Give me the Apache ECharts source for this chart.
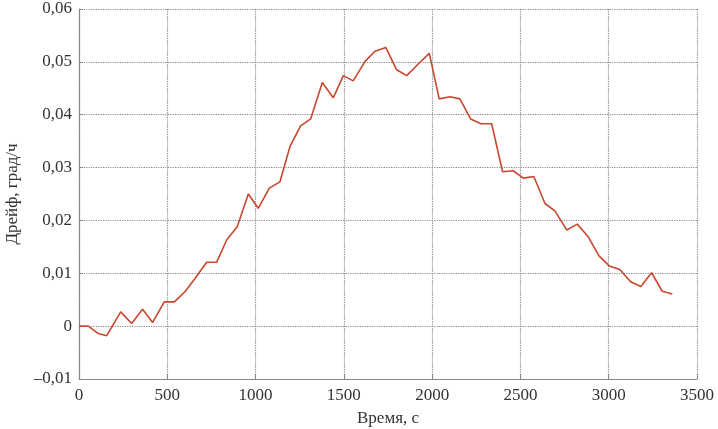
<!DOCTYPE html>
<html>
<head>
<meta charset="utf-8">
<script src="https://cdn.jsdelivr.net/npm/echarts@6/dist/echarts.min.js"></script>
<style>
html, body { margin: 0; padding: 0; background: #fff; }
#chart { width: 718px; height: 429px; }
</style>
</head>
<body>
<div id="chart"></div>
<script>
// время, с
var timeSec = [0, 53, 109, 157, 236, 298, 360, 417, 483, 540, 600, 657, 723, 780, 836, 896,
	959, 1015, 1078, 1138, 1195, 1255, 1312, 1378, 1440, 1497, 1553, 1620, 1676, 1738,
	1799, 1856, 1921, 1984, 2040, 2101, 2157, 2218, 2276, 2337, 2399, 2459, 2516, 2576,
	2639, 2695, 2762, 2822, 2884, 2945, 3003, 3063, 3124, 3182, 3243, 3303, 3360];
// дрейф, град/ч
var drift = [0, 0, -0.0014, -0.0018, 0.0027, 0.0005, 0.0032, 0.0007, 0.0046, 0.0046, 0.0065, 0.009,
	0.0121, 0.0121, 0.0163, 0.0188, 0.025, 0.0223, 0.0261, 0.0273, 0.034, 0.0379, 0.0392,
	0.0461, 0.0432, 0.0474, 0.0464, 0.0501, 0.052, 0.0527, 0.0485, 0.0474, 0.0496, 0.0516,
	0.043, 0.0434, 0.043, 0.0392, 0.0383, 0.0383, 0.0292, 0.0294, 0.028, 0.0283, 0.0232,
	0.0218, 0.0182, 0.0193, 0.0169, 0.0133, 0.0114, 0.0107, 0.0084, 0.0075, 0.0101, 0.0066, 0.0061];

var points = timeSec.map(function(t, i) { return [t, drift[i]]; });

var font = '"Liberation Serif", "DejaVu Serif", serif';
var chart = echarts.init(document.getElementById('chart'));
chart.setOption({
	animation: false,
	textStyle: { fontFamily: font },
	grid: { left: 79, right: 21, top: 9, bottom: 50, outerBoundsMode: 'none' },
	xAxis: {
		type: 'value',
		min: 0, max: 3500, interval: 500,
		name: 'Время, с',
		nameLocation: 'middle',
		nameGap: 31,
		nameTextStyle: { fontFamily: font, fontSize: 17, color: '#333' },
		axisLine: { onZero: false, lineStyle: { color: '#888', width: 1.2 } },
		axisTick: { inside: true, length: 4, lineStyle: { color: '#888' } },
		axisLabel: {
			fontFamily: font, fontSize: 17, color: '#333', margin: 8,
			formatter: function(v) { return String(v); }
		},
		splitLine: { show: true, lineStyle: { type: 'dotted', color: '#888', width: 1.2 } }
	},
	yAxis: {
		type: 'value',
		min: -0.01, max: 0.06, interval: 0.01,
		name: 'Дрейф, град/ч',
		nameLocation: 'middle',
		nameGap: 58,
		nameTextStyle: { fontFamily: font, fontSize: 17, color: '#333' },
		axisLine: { show: true, onZero: false, lineStyle: { color: '#888', width: 1.2 } },
		axisTick: { show: true, inside: true, length: 4, lineStyle: { color: '#888' } },
		axisLabel: {
			fontFamily: font, fontSize: 17, color: '#333', margin: 7,
			formatter: function(v) {
				var r = Math.round(v * 100) / 100;
				if (r === 0) return '0';
				return r.toFixed(2).replace('.', ',').replace('-', '–');
			}
		},
		splitLine: { show: true, lineStyle: { type: 'dotted', color: '#888', width: 1.2 } }
	},
	series: [{
		type: 'line',
		data: points,
		showSymbol: false,
		lineStyle: { color: '#c8472f', width: 1.6 }
	}]
});
</script>
</body>
</html>
